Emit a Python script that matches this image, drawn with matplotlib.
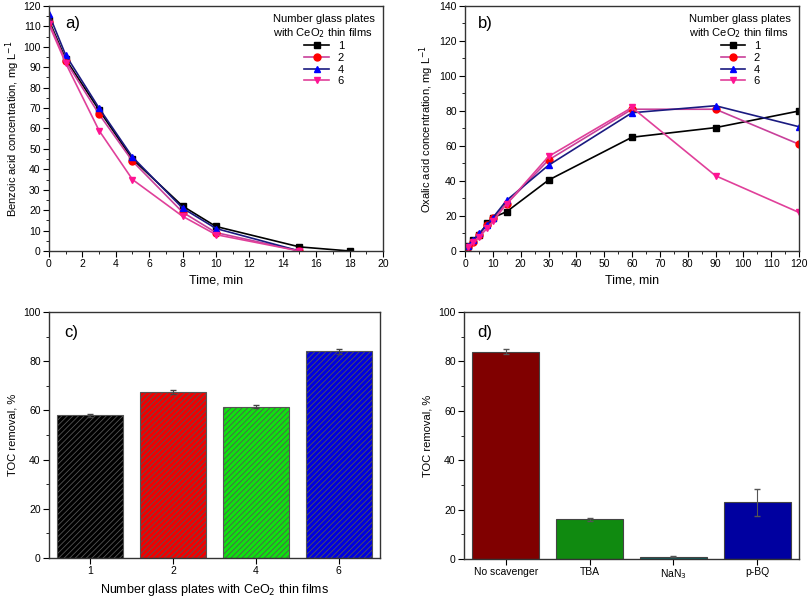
import matplotlib
matplotlib.use("Agg")
import matplotlib.pyplot as plt
import numpy as np
from matplotlib.ticker import MultipleLocator

plt.rcParams['font.family'] = ['Liberation Sans', 'DejaVu Sans']
plt.rcParams['hatch.linewidth'] = 0.6

# panel a: benzoic acid
t_a = [0, 1, 3, 5, 8, 10, 15]
t_a1 = [0, 1, 3, 5, 8, 10, 15, 18]
benz_1 = [113, 94, 69, 45, 22, 12, 2, 0]
benz_2 = [112, 93, 67, 44, 19, 9, 0]
benz_4 = [116, 96, 70, 46, 21, 11, 0]
benz_6 = [111, 92, 59, 35, 17, 8, 0]

# panel b: oxalic acid
t_b = [1, 3, 5, 8, 10, 15, 30, 60, 90, 120]
oxa_1 = [3, 6, 9, 16, 19, 22.5, 40.5, 65, 70.5, 80]
oxa_2 = [2, 5, 9, 15, 19, 27, 52, 81, 81, 61]
oxa_4 = [3, 6, 10, 15, 19, 29, 49, 79, 83, 71]
oxa_6 = [2, 5, 8, 13, 17, 27, 54, 82, 43, 22]

# panel c: TOC removal vs plates
plates = ['1', '2', '4', '6']
toc_plates = [58, 67.5, 61.5, 84]
toc_plates_err = [0.5, 0.8, 0.6, 1.0]

# panel d: scavengers
scav = ['No scavenger', 'TBA', 'NaN$_3$', 'p-BQ']
toc_scav = [84, 16, 1, 23]
toc_scav_err = [1.0, 0.7, 0.3, 5.5]

series_labels = ['1', '2', '4', '6']
line_cols = ['black', '#c8409a', '#1a1a80', '#e0409a']
mark_cols = ['black', 'red', 'blue', '#ff1493']
markers = ['s', 'o', '^', 'v']

fig = plt.figure(figsize=(8.08, 6.00), dpi=100)
ax_a = fig.add_axes([0.0606, 0.5817, 0.4134, 0.4083])
ax_b = fig.add_axes([0.5755, 0.5817, 0.4134, 0.4083])
ax_c = fig.add_axes([0.0606, 0.0700, 0.4097, 0.4100])
ax_d = fig.add_axes([0.5743, 0.0683, 0.4146, 0.4117])

def style(ax):
    ax.tick_params(which='both', direction='out', labelsize=7.5, top=False, right=False, pad=2)
    ax.tick_params(which='major', length=4)
    ax.tick_params(which='minor', length=2)
    for s in ax.spines.values():
        s.set_linewidth(1.0)
        s.set_color('#333333')

legend_title = 'Number glass plates\nwith CeO$_2$ thin films'

# a)
xs_a = [t_a1, t_a, t_a, t_a]
for x, y, lab, lc, mc, m in zip(xs_a, [benz_1, benz_2, benz_4, benz_6], series_labels, line_cols, mark_cols, markers):
    ax_a.plot(x, y, color=lc, lw=1.2, marker=m, markersize=5, mfc=mc, mec=mc, label=lab)
ax_a.set_xlim(0, 20)
ax_a.set_ylim(0, 120)
ax_a.xaxis.set_major_locator(MultipleLocator(2))
ax_a.xaxis.set_minor_locator(MultipleLocator(1))
ax_a.yaxis.set_major_locator(MultipleLocator(10))
ax_a.yaxis.set_minor_locator(MultipleLocator(5))
ax_a.set_xlabel('Time, min', fontsize=9)
ax_a.set_ylabel('Benzoic acid concentration, mg L$^{-1}$', fontsize=8, labelpad=1)
ax_a.text(0.05, 0.91, 'a)', transform=ax_a.transAxes, fontsize=12)
style(ax_a)
ax_a.legend(title=legend_title, loc='upper right', frameon=False, fontsize=8,
            title_fontsize=8, handlelength=2.2, labelspacing=0.15, borderaxespad=0.3)

# b)
for y, lab, lc, mc, m in zip([oxa_1, oxa_2, oxa_4, oxa_6], series_labels, line_cols, mark_cols, markers):
    ax_b.plot(t_b, y, color=lc, lw=1.2, marker=m, markersize=5, mfc=mc, mec=mc, label=lab)
ax_b.set_xlim(0, 120)
ax_b.set_ylim(0, 140)
ax_b.xaxis.set_major_locator(MultipleLocator(10))
ax_b.xaxis.set_minor_locator(MultipleLocator(5))
ax_b.yaxis.set_major_locator(MultipleLocator(20))
ax_b.yaxis.set_minor_locator(MultipleLocator(10))
ax_b.set_xlabel('Time, min', fontsize=9)
ax_b.set_ylabel('Oxalic acid concentration, mg L$^{-1}$', fontsize=8, labelpad=2)
ax_b.text(0.04, 0.91, 'b)', transform=ax_b.transAxes, fontsize=12)
style(ax_b)
ax_b.legend(title=legend_title, loc='upper right', frameon=False, fontsize=8,
            title_fontsize=8, handlelength=2.2, labelspacing=0.15, borderaxespad=0.3)

# c)
xc = np.arange(len(plates))
ax_c.bar(xc, toc_plates, width=0.8, color=['black', '#f00000', '#10e010', '#0000e0'],
         edgecolor='#555555', linewidth=0.8, hatch='//////',
         yerr=toc_plates_err, capsize=2, error_kw=dict(ecolor='#444444', elinewidth=0.8))
ax_c.set_xlim(-0.5, 3.5)
ax_c.set_ylim(0, 100)
ax_c.set_xticks(xc)
ax_c.set_xticklabels(plates)
ax_c.yaxis.set_major_locator(MultipleLocator(20))
ax_c.yaxis.set_minor_locator(MultipleLocator(10))
ax_c.set_xlabel('Number glass plates with CeO$_2$ thin films', fontsize=9)
ax_c.set_ylabel('TOC removal, %', fontsize=8)
ax_c.text(0.045, 0.9, 'c)', transform=ax_c.transAxes, fontsize=12)
style(ax_c)

# d)
xd = np.arange(len(scav))
ax_d.bar(xd, toc_scav, width=0.8, color=['#800000', '#108a10', '#0f6060', '#0000a0'],
         edgecolor='#444444', linewidth=0.8,
         yerr=toc_scav_err, capsize=2, error_kw=dict(ecolor='#555555', elinewidth=0.8))
ax_d.set_xlim(-0.5, 3.5)
ax_d.set_ylim(0, 100)
ax_d.set_xticks(xd)
ax_d.set_xticklabels(scav)
ax_d.yaxis.set_major_locator(MultipleLocator(20))
ax_d.yaxis.set_minor_locator(MultipleLocator(10))
ax_d.set_ylabel('TOC removal, %', fontsize=8)
ax_d.text(0.04, 0.9, 'd)', transform=ax_d.transAxes, fontsize=12)
style(ax_d)

plt.savefig('out.png', dpi=100)
